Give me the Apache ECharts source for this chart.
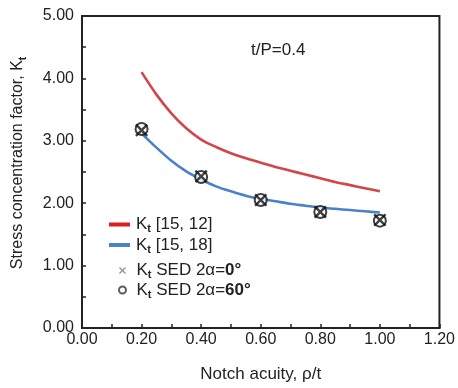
<!DOCTYPE html>
<html>
<head>
<meta charset="utf-8">
<script src="https://cdn.jsdelivr.net/npm/echarts@6/dist/echarts.min.js"></script>
<style>html,body{margin:0;padding:0;background:#fff}#c{width:458px;height:388px}</style>
</head>
<body>
<div id="c"></div>
<script>
// Data
const curveX = [0.20, 0.25, 0.30, 0.35, 0.40, 0.45, 0.50, 0.55, 0.60, 0.65, 0.70, 0.75, 0.80, 0.85, 0.90, 0.95, 1.00];
const redY  = [4.10, 3.74, 3.44, 3.20, 3.02, 2.90, 2.80, 2.72, 2.65, 2.58, 2.52, 2.46, 2.40, 2.34, 2.29, 2.24, 2.19];
const blueY = [3.12, 2.89, 2.68, 2.51, 2.38, 2.27, 2.19, 2.12, 2.07, 2.03, 1.99, 1.96, 1.93, 1.91, 1.89, 1.87, 1.85];
const sedX = [0.20, 0.40, 0.60, 0.80, 1.00];
const sed0 = [3.17, 2.43, 2.05, 1.86, 1.73];
const sed60 = [3.19, 2.42, 2.05, 1.86, 1.72];
const xTicks = [0, 0.2, 0.4, 0.6, 0.8, 1.0, 1.2];
const yTicks = [0, 1, 2, 3, 4, 5];
const names = ['Kt [15, 12]', 'Kt [15, 18]', 'Kt SED 2α=0°', 'Kt SED 2α=60°'];

const zip = (a, b) => a.map((v, i) => [v, b[i]]);
const FONT = 'Liberation Sans, Arial, sans-serif';
const crossPath = 'path://M0,1.3L1.3,0L5,3.7L8.7,0L10,1.3L6.3,5L10,8.7L8.7,10L5,6.3L1.3,10L0,8.7L3.7,5Z';

const rich = {
  k: {fontSize: 17, fontFamily: FONT, color: '#222', lineHeight: 20, verticalAlign: 'middle'},
  s: {fontSize: 11, fontFamily: FONT, color: '#222', lineHeight: 11, verticalAlign: 'bottom', fontWeight: 'bold'},
  n: {fontSize: 17, fontFamily: FONT, color: '#222', lineHeight: 20, verticalAlign: 'middle'},
  b: {fontSize: 17, fontFamily: FONT, color: '#222', lineHeight: 20, verticalAlign: 'middle', fontWeight: 'bold'}
};
function legendFmt(name) {
  const m = name.match(/^Kt (.*?)(0°|60°)?$/);
  if (m[2]) return '{k|K}{s|t}{n| ' + m[1] + '}{b|' + m[2] + '}';
  return '{k|K}{s|t}{n| ' + m[1] + '}';
}

const chart = echarts.init(document.getElementById('c'), null, {renderer: 'canvas'});
chart.setOption({
  animation: false,
  backgroundColor: '#fff',
  title: {
    text: 't/P=0.4', left: 246, top: 37,
    textStyle: {fontSize: 17, fontWeight: 'normal', fontFamily: FONT, color: '#222'}
  },
  grid: {left: 82, right: 17, top: 16, bottom: 58, show: true, borderColor: '#222', borderWidth: 2, backgroundColor: 'transparent'},
  legend: [
    {
      data: [names[0], names[1]], orient: 'vertical', left: 104, top: 211,
      itemWidth: 21, itemHeight: 4, itemGap: 2, icon: 'rect',
      formatter: legendFmt, textStyle: {rich: rich, padding: [0, 0, 0, 1]}
    },
    {
      data: [
        {name: names[2], icon: crossPath, itemStyle: {color: '#777'}},
        {name: names[3], icon: 'emptyCircle', itemStyle: {color: '#333', borderColor: '#333', borderWidth: 1.8}}
      ],
      orient: 'vertical', left: 113, top: 257, itemWidth: 8, itemHeight: 7, itemGap: 1,
      formatter: legendFmt, textStyle: {rich: rich, padding: [0, 0, 0, 5]}
    }
  ],
  xAxis: {
    type: 'value', min: xTicks[0], max: xTicks[xTicks.length - 1], interval: 0.2,
    name: 'Notch acuity, ρ/t', nameLocation: 'middle', nameGap: 38,
    nameTextStyle: {fontSize: 17, fontFamily: FONT, color: '#222'},
    axisLine: {show: true, onZero: false, lineStyle: {color: '#222', width: 2}},
    axisTick: {show: true, inside: true, length: 4, lineStyle: {color: '#222', width: 1.5}},
    minorTick: {show: true, splitNumber: 2, length: 4, lineStyle: {color: '#222', width: 1.5}},
    splitLine: {show: false},
    axisLabel: {fontSize: 16, fontFamily: FONT, color: '#222', margin: 4, formatter: v => v.toFixed(2)}
  },
  yAxis: {
    type: 'value', min: yTicks[0], max: yTicks[yTicks.length - 1], interval: 1,
    name: '{n|Stress concentration factor, K}{s|t}', nameLocation: 'middle', nameGap: 54,
    nameTextStyle: {rich: {
      n: {fontSize: 16, fontFamily: FONT, color: '#222', lineHeight: 20, verticalAlign: 'middle'},
      s: {fontSize: 10, fontFamily: FONT, color: '#222', lineHeight: 10, verticalAlign: 'bottom', fontWeight: 'bold'}
    }, padding: [0, 0, 0, 18]},
    axisLine: {show: true, onZero: false, lineStyle: {color: '#222', width: 2}},
    axisTick: {show: true, inside: true, length: 4, lineStyle: {color: '#222', width: 1.5}},
    minorTick: {show: true, splitNumber: 2, length: 4, lineStyle: {color: '#222', width: 1.5}},
    splitLine: {show: false},
    axisLabel: {fontSize: 16, fontFamily: FONT, color: '#222', margin: 8, formatter: v => v.toFixed(2)}
  },
  series: [
    {name: names[0], type: 'line', data: zip(curveX, redY), smooth: 0.3, showSymbol: false,
     lineStyle: {color: '#d0464a', width: 2.6}, itemStyle: {color: '#e01e1e'}},
    {name: names[1], type: 'line', data: zip(curveX, blueY), smooth: 0.3, showSymbol: false,
     lineStyle: {color: '#4a82c8', width: 2.6}, itemStyle: {color: '#4a82c8'}},
    {name: names[2], type: 'scatter', data: zip(sedX, sed0), symbol: crossPath, symbolSize: 13,
     itemStyle: {color: '#111'}, z: 4},
    {name: names[3], type: 'scatter', data: zip(sedX, sed60), symbol: 'emptyCircle', symbolSize: 12,
     itemStyle: {color: '#111', borderColor: '#111', borderWidth: 2.5}, z: 3}
  ]
});
</script>
</body>
</html>
